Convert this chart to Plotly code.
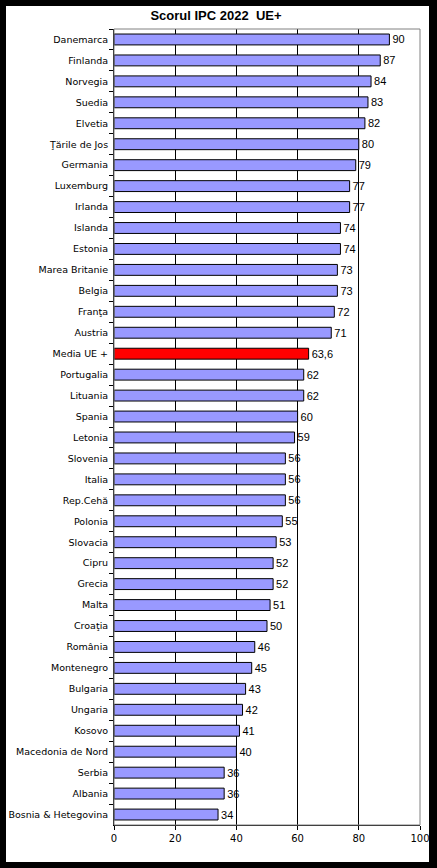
import plotly.graph_objects as go

tari = [
    "Danemarca", "Finlanda", "Norvegia", "Suedia", "Elvetia", "Ţările de Jos",
    "Germania", "Luxemburg", "Irlanda", "Islanda", "Estonia", "Marea Britanie",
    "Belgia", "Franţa", "Austria", "Media UE +", "Portugalia", "Lituania",
    "Spania", "Letonia", "Slovenia", "Italia", "Rep.Cehă", "Polonia",
    "Slovacia", "Cipru", "Grecia", "Malta", "Croaţia", "România",
    "Montenegro", "Bulgaria", "Ungaria", "Kosovo", "Macedonia de Nord",
    "Serbia", "Albania", "Bosnia & Hetegovina",
]
scoruri = [
    90, 87, 84, 83, 82, 80, 79, 77, 77, 74, 74, 73, 73, 72, 71, 63.6,
    62, 62, 60, 59, 56, 56, 56, 55, 53, 52, 52, 51, 50, 46, 45, 43, 42,
    41, 40, 36, 36, 34,
]
etichete = [str(v).replace(".", ",") for v in scoruri]
culori = ["#FF0000" if t == "Media UE +" else "#9999FF" for t in tari]

W, H = 437, 868
L, R, T, B = 114, 17, 29, 43
pw, ph = W - L - R, H - T - B

fig = go.Figure(
    data=go.Bar(
        x=scoruri,
        y=tari,
        orientation="h",
        width=0.52,
        marker=dict(color=culori, line=dict(color="black", width=1)),
        text=etichete,
        textposition="outside",
        constraintext="none",
        cliponaxis=False,
        textfont=dict(family="Liberation Sans, Arial", size=11, color="black"),
    )
)

fig.update_layout(
    width=W,
    height=H,
    margin=dict(l=L, r=R, t=T, b=B),
    paper_bgcolor="black",
    plot_bgcolor="white",
    showlegend=False,
    title=dict(
        text="<b>Scorul IPC 2022  UE+</b>",
        x=216 / W,
        xanchor="center",
        y=1 - 15 / H,
        yanchor="middle",
        font=dict(family="Liberation Sans, Arial", size=13, color="black"),
    ),
    shapes=[
        # fundal alb cu rama neagra
        dict(type="rect", xref="paper", yref="paper", layer="below",
             x0=(6 - L) / pw, x1=(429 - L) / pw,
             y0=-(862 - (H - B)) / ph, y1=1 + (T - 6) / ph,
             fillcolor="white", line=dict(width=0)),
        # chenar gri al zonei de desen
        dict(type="rect", xref="paper", yref="paper", layer="above",
             x0=0, x1=1, y0=0, y1=1,
             line=dict(color="#808080", width=1)),
    ],
)

fig.update_xaxes(
    range=[0, 100],
    dtick=20,
    automargin=False,
    showgrid=True,
    gridcolor="black",
    gridwidth=1,
    zeroline=False,
    showline=True,
    linecolor="black",
    linewidth=1,
    ticks="outside",
    ticklen=4,
    tickcolor="black",
    tickfont=dict(family="DejaVu Sans", size=10, color="black"),
    fixedrange=True,
)
fig.update_yaxes(
    autorange="reversed",
    automargin=False,
    showgrid=False,
    showline=True,
    linecolor="black",
    linewidth=1,
    ticks="outside",
    tickson="boundaries",
    ticklen=4,
    tickcolor="black",
    ticklabelstandoff=3,
    tickfont=dict(family="DejaVu Sans", size=9.5, color="black"),
    fixedrange=True,
)

fig.write_html(
    "out.html",
    config={"displayModeBar": False},
    post_script="document.body.style.margin='0';document.body.style.background='black';",
)
